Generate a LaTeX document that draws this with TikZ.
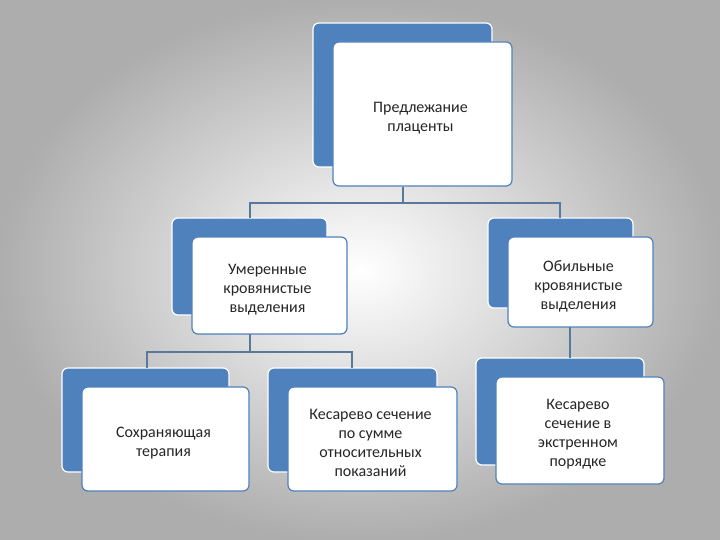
\documentclass[tikz,border=0pt]{standalone}
\usepackage{fontspec}
\setmainfont{Carlito}
\begin{document}
\begin{tikzpicture}[x=1pt,y=-1pt,
  back/.style={fill={rgb,255:red,79;green,129;blue,189},draw=white,line width=1.2,rounded corners=6},
  front/.style={fill=white,draw={rgb,255:red,79;green,129;blue,189},line width=1.2,rounded corners=6},
  lbl/.style={align=center,font=\fontsize{16}{19}\selectfont,text=black!85},
  conn/.style={draw={rgb,255:red,90;green,120;blue,155},line width=1.3}]
\useasboundingbox (0,0) rectangle (720,540);
\shade[inner color=white,outer color=black!32] (0,0) rectangle (720,540);
\newcommand{\mybox}[6]{%
 \draw[back] (#1,#2) rectangle (#3,#4);
 \draw[front] (#1+20,#2+19) rectangle (#3+20,#4+19);
 \node[lbl] (#5) at ({(#1+#3)/2+18},{(#2+#4)/2+23}) {#6};}
\mybox{313}{23}{492}{167}{top}{Предлежание\\плаценты}
\mybox{172}{218}{327}{315}{lm}{Умеренные\\кровянистые\\выделения}
\mybox{488}{218}{633}{308}{rm}{Обильные\\кровянистые\\выделения}
\mybox{62}{368}{229}{472}{bl}{Сохраняющая\\терапия}
\mybox{268}{368}{437}{472}{bm}{Кесарево сечение\\по сумме\\относительных\\показаний}
\mybox{476}{358}{644}{465}{br}{Кесарево\\сечение в\\экстренном\\порядке}
\coordinate (j1) at (403,203);
\coordinate (j2) at (250,352);
\draw[conn] (403,187) -- (j1) -- (250,203) -- (250,218);
\draw[conn] (j1) -- (560,203) -- (560,218);
\draw[conn] (250,334) -- (j2) -- (147,352) -- (147,368);
\draw[conn] (j2) -- (352,352) -- (352,368);
\draw[conn] (570,327) -- (570,358);
\end{tikzpicture}
\end{document}
